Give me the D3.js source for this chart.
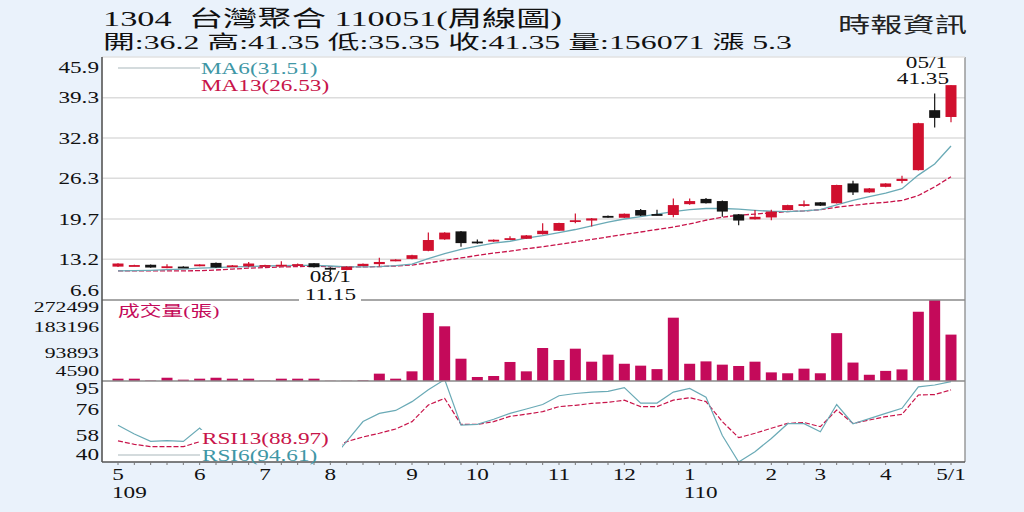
<!DOCTYPE html>
<html>
<head>
<meta charset="utf-8">
<script src="https://cdn.jsdelivr.net/npm/d3@7"></script>
<style>
  html, body { margin: 0; padding: 0; background: #eaf2fb; }
  svg { display: block; }
  text { white-space: pre; }
</style>
</head>
<body>
<svg id="canvas" width="1024" height="512"></svg>
<script>
// weekly data, 109/05 .. 110/05/01 (one week missing for lunar new year)
let opens  = [12.0,12.15,12.3,11.85,12.0,12.1,12.6,12.0,12.05,12.2,12.2,12.2,12.55,11.8,11.45,12.1,12.4,12.9,13.25,14.55,16.4,17.7,16.05,16.05,16.45,16.5,17.25,17.8,19.4,19.45,20.2,19.9,21.15,20.5,20.35,22.1,22.95,22.6,20.45,19.65,19.95,21.15,22.0,22.4,22.25,25.45,24.0,24.9,25.85,27.6,37.3,36.2]
let highs  = [12.55,12.3,12.35,12.4,12.05,12.4,12.65,12.25,12.75,12.3,12.85,12.5,12.6,11.9,12.05,12.5,13.45,13.2,13.9,17.5,17.55,17.75,16.4,16.4,16.9,17.1,19.0,19.1,20.6,19.85,20.25,20.6,21.3,21.2,23.0,23.0,23.1,22.7,20.5,21.15,21.2,22.0,22.7,22.45,25.25,25.9,24.7,25.5,26.7,35.25,40.0,41.35]
let lows   = [11.95,12.1,11.8,11.75,11.9,12.05,11.8,11.95,11.9,12.15,12.1,12.15,11.85,11.15,11.4,12.05,12.0,12.85,13.2,14.5,16.35,15.2,15.7,16.0,16.3,16.45,17.2,17.75,19.0,18.5,19.9,19.85,20.2,20.3,20.0,22.0,22.2,20.05,18.7,19.6,19.5,21.1,21.7,21.8,22.2,23.6,23.95,24.85,25.5,27.55,34.5,35.35]
let closes = [12.5,12.25,11.85,12.05,11.95,12.35,11.85,12.2,12.5,12.25,12.3,12.4,11.9,11.65,12.0,12.45,12.75,13.15,13.85,16.3,17.5,15.8,15.95,16.35,16.6,17.05,17.8,19.05,19.5,19.8,19.95,20.55,20.25,20.45,21.95,22.6,22.25,20.9,19.45,20.05,20.9,21.95,22.1,21.85,25.2,24.0,24.65,25.45,26.2,35.2,36.05,41.35]
let volumes = [7800,7800,1500,11000,4500,7800,11000,7800,7800,1000,7800,7800,7800,800,800,2200,24700,7800,32500,229000,184000,75000,13500,16800,64000,32500,111000,70600,108700,65000,88600,58000,51600,40000,213000,58000,66000,55000,50500,65000,29000,26000,41500,26000,161000,62000,21000,34000,39000,233000,272499,156071]
let ma6  = [11.3,11.35,11.4,11.5,11.6,11.75,11.85,11.95,12.0,12.1,12.15,12.2,12.2,12.1,11.95,11.95,12.0,12.15,12.4,13.3,14.1,14.8,15.3,15.8,16.1,16.6,17.0,17.5,18.0,18.6,19.2,19.7,20.1,20.5,20.9,21.2,21.4,21.4,21.3,21.1,20.95,20.9,21.0,21.2,22.0,22.7,23.3,23.9,24.6,26.8,28.6,31.51]
let ma13 = [11.3,11.3,11.3,11.3,11.3,11.35,11.45,11.6,11.75,11.85,11.95,12.0,12.05,12.0,11.95,11.95,12.0,12.1,12.25,12.6,13.0,13.4,13.8,14.2,14.5,14.9,15.2,15.6,16.0,16.4,16.8,17.2,17.6,18.0,18.4,18.9,19.5,20.0,20.3,20.5,20.7,20.9,21.0,21.2,21.6,21.9,22.2,22.4,22.7,23.5,24.9,26.53]
let rsi6  = [65,59,54,54.5,54,63,52,55,58,56,57,58,50,40.5,54,67.5,73,75,81,89,96,65,65.5,69,73,76,79,85,86.5,87.5,88,90.5,80,80,87.5,90,84,58,40,47,56,66,66,60.5,79,66,69.5,73,76.5,91,92.3,94.61]
let rsi13 = [54.3,52,50.4,50.4,50.4,53.8,50,51,52,51,52,52.5,50,48,53.8,57,59.5,62.4,67.4,78.7,83.2,65.5,65.5,67.4,71,72.5,74.2,77.6,78.5,79.8,80.5,82,77.6,77.6,82,83.7,81,67.4,56.5,59.5,62.9,66.2,66.8,64,75.3,66.2,68.5,70.8,72.4,85.5,85.8,88.97]

let priceTicks = [6.6,13.2,19.7,26.3,32.8,39.3,45.9]
let volumeTicks = [4590,93893,183196,272499]
let rsiTicks = [40,58,76,95]
let monthLabels = ['5','6','7','8','9','10','11','12','1','2','3','4','5/1']
let monthWeeks  = [0,5,9,13,18,22,27,31,35,40,43,47,51]
let yearLabels = ['109','110']
let yearWeeks  = [0,35]

let title1 = '1304  台灣聚合 110051(周線圖)'
let title2 = '開:36.2 高:41.35 低:35.35 收:41.35 量:156071 漲 5.3'
let source = '時報資訊'

let canvas = d3.select('#canvas')
let serif = "'Liberation Serif', 'Noto Sans CJK TC', serif"
let SX = 1.45

let red = '#d0102e'
let black = '#151515'
let magenta = '#c40a5a'
let teal = '#6aaab6'
let tealText = '#3f97a6'
let crimson = '#c8144a'

let left = 102, right = 965
let top1 = 57, bot1 = 300, bot2 = 381, bot3 = 462

let x = d3.scaleLinear().domain([0, closes.length - 1]).range([118, 951])
let yPrice = d3.scaleLinear().domain([6.6, 45.9]).range([bot1, top1])
let yVol = d3.scaleLinear().domain([0, 272499]).range([bot2, bot1])
let yRsi = d3.scaleLinear().domain([40, 95]).range([bot3, bot2])

let addText = (g, px, py, str, size, anchor, fill) => {
  return g.append('text')
    .attr('transform', 'translate(' + px + ',' + py + ') scale(' + SX + ',1)')
    .attr('text-anchor', anchor)
    .attr('dominant-baseline', 'central')
    .attr('font-family', serif)
    .attr('font-size', size)
    .attr('fill', fill)
    .text(str)
}

// plot background
canvas.append('rect')
  .attr('x', left).attr('y', top1)
  .attr('width', right - left).attr('height', bot3 - top1)
  .attr('fill', '#ffffff')

// price grid
canvas.append('g')
  .selectAll('line')
  .data(priceTicks.slice(1, -1))
  .enter()
  .append('line')
  .attr('x1', left).attr('x2', right)
  .attr('y1', (d) => yPrice(d)).attr('y2', (d) => yPrice(d))
  .attr('stroke', '#dcdcdc').attr('stroke-width', 1.5)

let clip = canvas.append('defs')
clip.append('clipPath').attr('id', 'clipRsi')
  .append('rect').attr('x', left).attr('y', bot2).attr('width', right - left).attr('height', bot3 - bot2)

// moving averages
let priceLine = (arr) => d3.line().x((d, i) => x(i)).y((d) => yPrice(d))(arr)
canvas.append('path').attr('d', priceLine(ma13))
  .attr('fill', 'none').attr('stroke', crimson).attr('stroke-width', 1.3).attr('stroke-dasharray', '5,2')
canvas.append('path').attr('d', priceLine(ma6))
  .attr('fill', 'none').attr('stroke', teal).attr('stroke-width', 1.3)

// candles
let candles = canvas.append('g')
  .selectAll('g')
  .data(closes.map((c, i) => ({ i: i, o: opens[i], h: highs[i], l: lows[i], c: c })))
  .enter()
  .append('g')

candles.append('line')
  .attr('x1', (d) => x(d.i)).attr('x2', (d) => x(d.i))
  .attr('y1', (d) => yPrice(d.h)).attr('y2', (d) => yPrice(d.l))
  .attr('stroke', (d) => d.c >= d.o ? red : black)
  .attr('stroke-width', 1.2)

candles.append('rect')
  .attr('x', (d) => x(d.i) - 5.5)
  .attr('width', 11)
  .attr('y', (d) => yPrice(Math.max(d.o, d.c)))
  .attr('height', (d) => Math.max(1.8, Math.abs(yPrice(d.o) - yPrice(d.c))))
  .attr('fill', (d) => d.c >= d.o ? red : black)

// volume bars
canvas.append('g')
  .selectAll('rect')
  .data(volumes)
  .enter()
  .append('rect')
  .attr('x', (d, i) => x(i) - 5.5)
  .attr('width', 11)
  .attr('y', (d) => yVol(d))
  .attr('height', (d) => bot2 - yVol(d))
  .attr('fill', magenta)

// rsi lines
let rsiLine = (arr) => d3.line().x((d, i) => x(i)).y((d) => yRsi(d))(arr)
let rsiG = canvas.append('g').attr('clip-path', 'url(#clipRsi)')
rsiG.append('path').attr('d', rsiLine(rsi13))
  .attr('fill', 'none').attr('stroke', crimson).attr('stroke-width', 1.2).attr('stroke-dasharray', '5,2')
rsiG.append('path').attr('d', rsiLine(rsi6))
  .attr('fill', 'none').attr('stroke', teal).attr('stroke-width', 1.2)

// panel frame
let frame = canvas.append('g').attr('stroke', '#8a8a8a').attr('stroke-width', 1.3)
frame.append('line').attr('x1', left).attr('x2', right).attr('y1', bot1).attr('y2', bot1)
frame.append('line').attr('x1', left).attr('x2', right).attr('y1', bot2).attr('y2', bot2)
frame.append('line').attr('x1', right).attr('x2', right).attr('y1', top1).attr('y2', bot3)
frame.append('line').attr('x1', left).attr('x2', right).attr('y1', top1).attr('y2', top1).attr('stroke', '#e2e2e2')
canvas.append('line').attr('x1', left).attr('x2', left).attr('y1', top1).attr('y2', bot3)
  .attr('stroke', '#555').attr('stroke-width', 1.6)
canvas.append('line').attr('x1', left).attr('x2', right).attr('y1', bot3).attr('y2', bot3)
  .attr('stroke', '#555').attr('stroke-width', 1.6)

// week ticks on bottom axis
canvas.append('g')
  .selectAll('line')
  .data(closes)
  .enter()
  .append('line')
  .attr('x1', (d, i) => x(i)).attr('x2', (d, i) => x(i))
  .attr('y1', bot3).attr('y2', bot3 + 3)
  .attr('stroke', '#777')

// axis labels
let clampY = (v, lo, hi) => Math.max(lo, Math.min(hi, v))
let axisG = canvas.append('g')
priceTicks.forEach((t) => {
  addText(axisG, 99, clampY(yPrice(t), top1 + 10, bot1 - 10), String(t), 16, 'end', '#111')
})
volumeTicks.forEach((t) => {
  addText(axisG, 99, clampY(yVol(t), bot1 + 7, bot2 - 10), String(t), 15, 'end', '#111')
})
rsiTicks.forEach((t) => {
  addText(axisG, 99, clampY(yRsi(t), bot2 + 7, bot3 - 8), String(t), 16, 'end', '#111')
})
monthLabels.forEach((m, k) => {
  addText(axisG, x(monthWeeks[k]), 474, m, 16, 'middle', '#111')
})
yearLabels.forEach((yl, k) => {
  addText(axisG, x(yearWeeks[k]) - 6, 492, yl, 16, 'start', '#111')
})

// legends
canvas.append('line').attr('x1', 118).attr('x2', 200).attr('y1', 68).attr('y2', 68)
  .attr('stroke', '#a9b8bc').attr('stroke-width', 1.2)
addText(canvas, 201, 68, 'MA6(31.51)', 16, 'start', tealText)
addText(canvas, 201, 85, 'MA13(26.53)', 16, 'start', crimson)
addText(canvas, 118, 311, '成交量(張)', 15, 'start', magenta)

canvas.append('rect').attr('x', 200).attr('y', 430).attr('width', 142).attr('height', 31).attr('fill', '#fff')
canvas.append('line').attr('x1', 118).attr('x2', 200).attr('y1', 455).attr('y2', 455)
  .attr('stroke', '#a9b8bc').attr('stroke-width', 1.2)
addText(canvas, 202, 438, 'RSI13(88.97)', 16, 'start', crimson)
addText(canvas, 202, 455, 'RSI6(94.61)', 16, 'start', tealText)

// high / low notes
let last = closes.length - 1
addText(canvas, x(last) - 4, 62, '05/1', 16, 'end', '#111')
addText(canvas, x(last) - 2, 78, '41.35', 16, 'end', '#111')
canvas.append('rect').attr('x', 299).attr('y', 287).attr('width', 62).attr('height', 15).attr('fill', '#fff')
addText(canvas, x(13), 276, '08/1', 16, 'middle', '#111')
addText(canvas, x(13), 294, '11.15', 16, 'middle', '#111')

// header
canvas.append('text').attr('x', 103).attr('y', 26)
  .attr('font-family', serif).attr('font-size', 22).attr('fill', '#111')
  .attr('textLength', 459).attr('lengthAdjust', 'spacingAndGlyphs')
  .text(title1)
canvas.append('text').attr('x', 103).attr('y', 49)
  .attr('font-family', serif).attr('font-size', 19).attr('fill', '#111')
  .attr('textLength', 689).attr('lengthAdjust', 'spacingAndGlyphs')
  .text(title2)
canvas.append('text').attr('x', 838).attr('y', 32)
  .attr('font-family', serif).attr('font-size', 21).attr('fill', '#222')
  .attr('textLength', 129).attr('lengthAdjust', 'spacingAndGlyphs')
  .text(source)
</script>
</body>
</html>
